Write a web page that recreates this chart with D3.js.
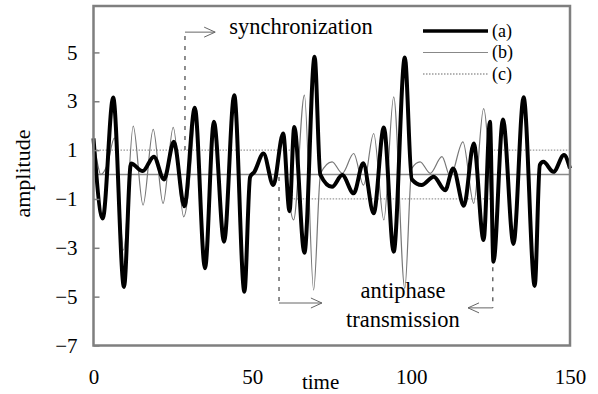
<!DOCTYPE html>
<html>
<head>
<meta charset="utf-8">
<script src="https://cdnjs.cloudflare.com/ajax/libs/d3/7.8.5/d3.min.js"></script>
<style>
  body { margin: 0; background: #fff; }
  svg text { font-family: "Liberation Serif", "Times New Roman", serif; fill: #000; }
</style>
</head>
<body>
<div id="chart"></div>
<script>
// (a) thick trace: [time, amplitude]
const seriesA = [
  [0, 1.48], [2.9, -1.8], [6.2, 3.15], [9.6, -4.6], [11.8, 0.45], [15.5, 0.14],
  [19, 0.73], [22.2, -0.2], [25.3, 1.34], [28.6, -1.3], [31.9, 2.73], [35.1, -3.84],
  [37.9, 2.16], [41.1, -2.75], [44.3, 3.25], [47.5, -4.8], [49.3, -0.1], [50.6, 0.1],
  [53.5, 0.86], [56.6, -0.43], [59.7, 1.68], [61.7, -1.5], [63.2, 1.95], [66.4, -3.2],
  [69.6, 4.82], [71.4, 0], [75.1, -0.5], [78.3, -0.02], [81.9, -0.77], [84.9, 0.46],
  [88.2, -1.59], [91.4, 1.93], [94.5, -3.16], [98, 4.79], [100.2, -0.2], [103.3, -0.43],
  [107.1, -0.09], [110.7, -0.64], [113.2, 0.25], [116.6, -1.28], [119.7, 1.27], [122.8, -2.68],
  [124.8, 2.16], [125.9, -3.57], [128.9, 2.25], [132.2, -2.84], [135.4, 3.16], [138.9, -4.56],
  [140.5, 0.39], [141.6, 0.52], [144.8, 0.11], [148.1, 0.8], [150, 0.25]
];

// (b) thin trace, only where it leaves (a)
const seriesB1 = [
  [0, 1.48], [1.2, 0.5], [2.3, 0.0], [4.3, 0.39], [6.6, 1.5], [9.5, -3.1],
  [12.5, 1.98], [15.6, -1.25], [18.8, 1.85], [21.9, -1.18], [25.1, 1.93], [28.4, -1.73],
  [31.9, 2.73]
];
const seriesB2 = [
  [59.7, 1.68], [63.0, -1.86], [66.4, 3.25], [69.3, -4.73], [71.5, 0.05], [75.1, 0.52],
  [78.3, 0.05], [81.9, 0.86], [85, -0.43], [88.2, 1.68], [91.4, -1.86], [94.5, 3.18],
  [98, -4.66], [100.2, 0.25], [102.8, 0.52], [106, 0.05], [109.7, 0.73], [112.3, -0.09],
  [116.3, 1.34], [119.7, -1.18], [122.8, 2.7], [125.9, -3.57]
];

// (c) control signal (step)
const seriesC = [[0, 1], [62.5, -1], [125.2, 1], [150, 1]];

const xTicks = [0, 50, 100, 150];
const yTicks = [-7, -5, -3, -1, 1, 3, 5];
const legendLabels = ["(a)", "(b)", "(c)"];

const width = 598, height = 394;

const svg = d3.select("#chart")
  .append("svg")
  .attr("width", width)
  .attr("height", height);

const x = d3.scaleLinear().domain([0, 150]).range([93.5, 570]);
const y = d3.scaleLinear().domain([-7, 6.9]).range([345.5, 6]);

// zero line
svg.append("line")
  .attr("x1", x(0)).attr("x2", x(150))
  .attr("y1", y(0)).attr("y2", y(0))
  .attr("stroke", "#8a8a8a").attr("stroke-width", 1.5);

const line = d3.line()
  .x(d => x(d[0]))
  .y(d => y(d[1]))
  .curve(d3.curveMonotoneX);

const stepLine = d3.line()
  .x(d => x(d[0]))
  .y(d => y(d[1]))
  .curve(d3.curveStepAfter);

// (c) dotted
svg.append("path")
  .attr("d", stepLine(seriesC))
  .attr("fill", "none")
  .attr("stroke", "#9a9a9a")
  .attr("stroke-width", 1.3)
  .attr("stroke-dasharray", "1.5,1.5");

// (b) thin
[seriesB1, seriesB2].forEach(seg => {
  svg.append("path")
    .attr("d", line(seg))
    .attr("fill", "none")
    .attr("stroke", "#777")
    .attr("stroke-width", 1.2);
});

// (a) thick
svg.append("path")
  .attr("d", line(seriesA))
  .attr("fill", "none")
  .attr("stroke", "#000")
  .attr("stroke-width", 4)
  .attr("stroke-linejoin", "round");

// frame
svg.append("rect")
  .attr("x", x(0)).attr("y", y(6.9))
  .attr("width", x(150) - x(0))
  .attr("height", y(-7) - y(6.9))
  .attr("fill", "none")
  .attr("stroke", "#7f7f7f")
  .attr("stroke-width", 2.5);

// y axis, ticks pointing inward
const yAxis = svg.append("g")
  .attr("transform", `translate(${x(0)},0)`)
  .call(d3.axisLeft(y).tickValues(yTicks).tickSizeInner(-6).tickSizeOuter(0).tickPadding(16));
yAxis.select(".domain").remove();
yAxis.selectAll("line").attr("stroke", "#7f7f7f").attr("stroke-width", 1.5);
yAxis.selectAll("text")
  .attr("font-size", 21)
  .attr("font-family", "Liberation Serif")
  .attr("fill", "#000");

// x axis
const xAxis = svg.append("g")
  .attr("transform", `translate(0,${y(-7)})`)
  .call(d3.axisBottom(x).tickValues(xTicks).tickSize(0).tickPadding(24));
xAxis.select(".domain").remove();
xAxis.selectAll("text")
  .attr("font-size", 21)
  .attr("font-family", "Liberation Serif")
  .attr("fill", "#000");

// axis titles
svg.append("text")
  .attr("x", x(71.5)).attr("y", 389)
  .attr("text-anchor", "middle")
  .attr("font-size", 21)
  .text("time");

svg.append("text")
  .attr("transform", `translate(30,${y(0) - 1}) rotate(-90)`)
  .attr("text-anchor", "middle")
  .attr("font-size", 22)
  .text("amplitude");

// legend
const legend = svg.append("g").attr("transform", "translate(423,31)");
const legendStyles = [
  { stroke: "#000", w: 3.5, dash: null },
  { stroke: "#888", w: 1.2, dash: null },
  { stroke: "#9a9a9a", w: 1.3, dash: "1.5,1.5" }
];
legendLabels.forEach((lab, i) => {
  const g = legend.append("g").attr("transform", `translate(0,${i * 21.5})`);
  g.append("line")
    .attr("x1", 0).attr("x2", 65)
    .attr("stroke", legendStyles[i].stroke)
    .attr("stroke-width", legendStyles[i].w)
    .attr("stroke-dasharray", legendStyles[i].dash);
  g.append("text")
    .attr("x", 69).attr("y", 0).attr("dy", "0.33em")
    .attr("font-size", 18)
    .text(lab);
});

// annotations
function arrowHead(px, py, dir) {
  svg.append("path")
    .attr("d", `M${px - dir * 11},${py - 5}L${px},${py}L${px - dir * 11},${py + 5}`)
    .attr("fill", "none").attr("stroke", "#666").attr("stroke-width", 1);
}
function dashedV(t, v1, v2) {
  svg.append("line")
    .attr("x1", x(t)).attr("x2", x(t))
    .attr("y1", y(v1)).attr("y2", y(v2))
    .attr("stroke", "#444").attr("stroke-width", 1.2)
    .attr("stroke-dasharray", "4,6");
}
function hArrow(t1, t2, py) {
  svg.append("line")
    .attr("x1", x(t1)).attr("x2", x(t2))
    .attr("y1", py).attr("y2", py)
    .attr("stroke", "#666").attr("stroke-width", 1);
  arrowHead(x(t2), py, t2 > t1 ? 1 : -1);
}

// synchronization
dashedV(28.8, 1, 5.83);
hArrow(28.8, 38.3, y(5.83));
svg.append("text")
  .attr("x", x(42.7)).attr("y", 34)
  .attr("font-size", 22.5)
  .text("synchronization");

// antiphase transmission
dashedV(58.4, -0.1, -5.26);
hArrow(58.4, 71.9, y(-5.26));
dashedV(125.7, -3.8, -5.46);
hArrow(125.7, 117.9, y(-5.46));
svg.append("text")
  .attr("x", x(97.4)).attr("y", 298)
  .attr("text-anchor", "middle")
  .attr("font-size", 22.5)
  .text("antiphase");
svg.append("text")
  .attr("x", x(97.4)).attr("y", 327)
  .attr("text-anchor", "middle")
  .attr("font-size", 22.5)
  .text("transmission");
</script>
</body>
</html>
